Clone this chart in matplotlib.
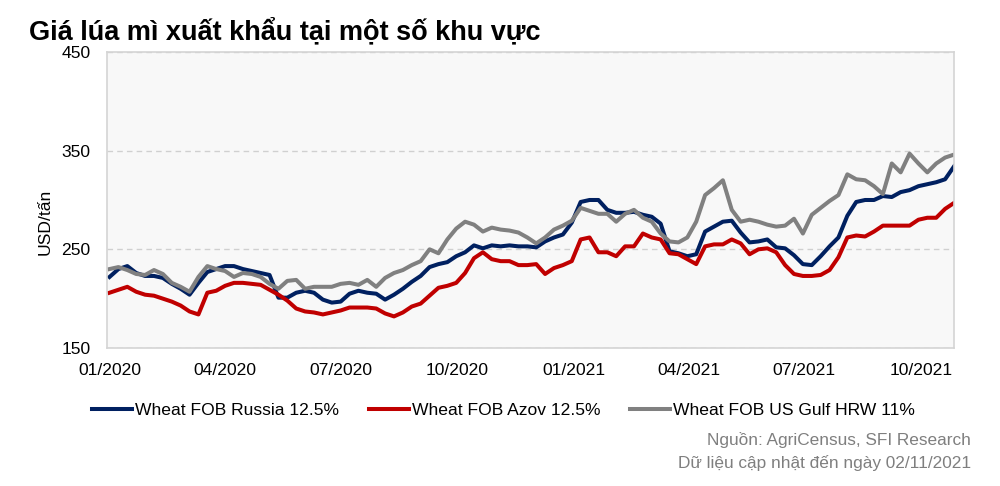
import matplotlib
matplotlib.use("Agg")
import matplotlib.pyplot as plt
import matplotlib.dates as mdates
import pandas as pd


plt.rcParams["font.family"] = ["Liberation Sans", "DejaVu Sans"]


# Data (USD/tan, weekly readings from 01/2020 to end of 10/2021)
dates = pd.date_range("2020-01-01", periods=96, freq="7D")

russia = [
    222, 230, 233, 226, 223, 223, 221, 215, 210, 204,
    216, 227, 230, 233, 233, 230, 228, 226, 224, 201,
    201, 206, 208, 206, 199, 196, 197, 205, 208, 206,
    205, 199, 204, 210, 217, 223, 232, 235, 237, 243,
    247, 254, 251, 254, 253, 254, 253, 253, 252, 258,
    262, 265, 277, 298, 300, 300, 290, 287, 287, 288,
    285, 283, 276, 248, 246, 243, 245, 268, 273, 278,
    279, 267, 257, 258, 260, 252, 251, 244, 235, 234,
    243, 253, 262, 284, 298, 300, 300, 304, 303, 308,
    310, 314, 316, 318, 321, 334,
]

azov = [
    206, 209, 212, 207, 204, 203, 200, 197, 193, 187,
    184, 206, 208, 213, 216, 216, 215, 214, 209, 204,
    198, 190, 187, 186, 184, 186, 188, 191, 191, 191,
    190, 185, 182, 186, 192, 195, 203, 211, 213, 216,
    226, 241, 247, 240, 238, 238, 234, 234, 235, 225,
    231, 234, 238, 260, 262, 247, 247, 243, 253, 253,
    266, 262, 260, 246, 245, 240, 235, 253, 255, 255,
    260, 256, 245, 250, 251, 247, 234, 225, 223, 223,
    224, 229, 242, 262, 264, 263, 268, 274, 274, 274,
    274, 280, 282, 282, 291, 297,
]

us_gulf = [
    230, 232, 229, 225, 224, 229, 225, 216, 212, 207,
    222, 233, 230, 228, 222, 226, 225, 222, 215, 210,
    218, 219, 210, 212, 212, 212, 215, 216, 214, 219,
    212, 221, 226, 229, 234, 238, 250, 246, 260, 271,
    278, 275, 268, 272, 270, 269, 267, 262, 256, 262,
    270, 274, 279, 292, 289, 286, 286, 278, 286, 290,
    282, 278, 266, 258, 257, 262, 278, 305, 312, 320,
    290, 278, 280, 278, 275, 273, 274, 281, 266, 285,
    292, 299, 305, 326, 321, 320, 314, 306, 337, 328,
    347, 337, 328, 337, 343, 346,
]

series_names = [
    "Wheat FOB Russia 12.5%",
    "Wheat FOB Azov 12.5%",
    "Wheat FOB US Gulf HRW 11%",
]
colors = ["#002060", "#C00000", "#808080"]

y_ticks = [150, 250, 350, 450]
x_ticks = pd.to_datetime([
    "2020-01-01", "2020-04-01", "2020-07-01", "2020-10-01",
    "2021-01-01", "2021-04-01", "2021-07-01", "2021-10-01",
])


fig = plt.figure(figsize=(10, 4.86), dpi=100)
ax = fig.add_axes([0.107, 0.284, 0.847, 0.609])
ax.set_facecolor("#f8f8f8")

for values, name, color in zip([russia, azov, us_gulf], series_names, colors):
    ax.plot(dates, values, color=color, linewidth=2.9, label=name,
            solid_joinstyle="round")

ax.set_ylim(150, 450)
ax.set_yticks(y_ticks)
ax.set_xlim(pd.Timestamp("2019-12-30"), dates[-1])
ax.set_xticks(x_ticks)
ax.xaxis.set_major_formatter(mdates.DateFormatter("%m/%Y"))

ax.grid(axis="y", color="#d0d0d0", linestyle=(0, (4, 3)), linewidth=1)
ax.set_axisbelow(True)

for side in ["top", "bottom", "left", "right"]:
    ax.spines[side].set_color("#d4d4d4")
    ax.spines[side].set_linewidth(1.2)

ax.tick_params(axis="both", length=0, labelsize=12.6, colors="#000000")
ax.tick_params(axis="x", pad=11)
ax.tick_params(axis="y", pad=12)

fig.text(0.045, 1 - 222 / 486, "USD/tấn", rotation=90,
         ha="center", va="center", fontsize=12.6)

# Title
fig.text(0.029, 1 - 32 / 486, "Giá lúa mì xuất khẩu tại một số khu vực",
         fontsize=19.5, fontweight="bold", ha="left", va="center")

# Legend
fig.legend(
    loc="center left",
    bbox_to_anchor=(0.092, 1 - 410 / 486),
    ncol=3,
    frameon=False,
    fontsize=12.6,
    handlelength=2.3,
    handletextpad=0.15,
    columnspacing=1.7,
    borderpad=0,
    borderaxespad=0,
)

# Source
fig.text(0.971, 1 - 440 / 486, "Nguồn: AgriCensus, SFI Research",
         ha="right", va="center", fontsize=12.4, color="#7f7f7f")
fig.text(0.971, 1 - 463 / 486, "Dữ liệu cập nhật đến ngày 02/11/2021",
         ha="right", va="center", fontsize=12.4, color="#7f7f7f")

plt.savefig("out.png", dpi=100)
plt.close()
